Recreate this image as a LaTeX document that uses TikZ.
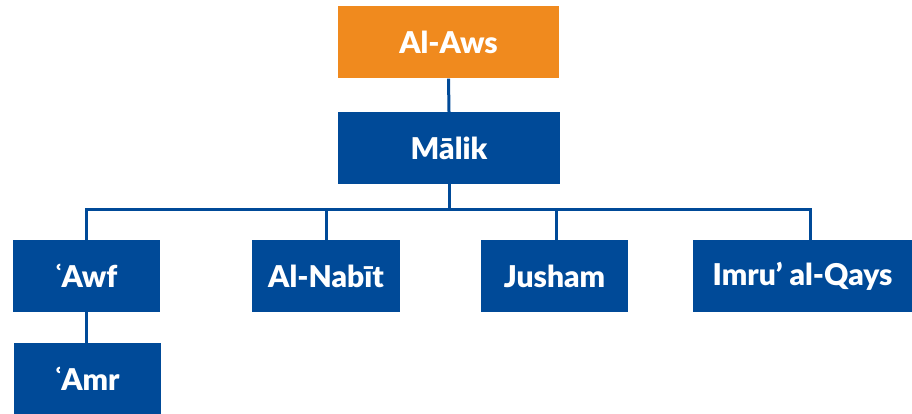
\documentclass[tikz,border=0pt]{standalone}
\usepackage{fontspec}
\setmainfont{Lato}
\newfontfamily\heavyfont{Lato Black}
\definecolor{famblue}{HTML}{004A98}
\definecolor{famorange}{HTML}{F08A1E}
\tikzset{
  person/.style={rectangle, fill=famblue, text=white, inner sep=0pt,
    minimum height=72pt, font=\heavyfont\fontsize{30}{32}\selectfont},
  root/.style={person, fill=famorange},
  conn/.style={draw=famblue, line width=3pt}
}
\begin{document}
\begin{tikzpicture}[x=1pt, y=-1pt]
  \useasboundingbox (0,0) rectangle (912,414);
  % tree nodes
  \node[root, minimum width=221pt] (aws) at (448.5,42.5) {Al-Aws};
  \node[person, minimum width=222pt] (malik) at (449,148) {Mālik};
  \node[person, minimum width=147pt] (awf) at (86.5,276) {ʿAwf};
  \node[person, minimum width=148pt] (nabit) at (326,276) {Al-Nabīt};
  \node[person, minimum width=147pt] (jusham) at (554.5,276) {Jusham};
  \node[person, minimum width=219pt] (imru) at (802.5,276) {Imru’ al-Qays};
  \node[person, minimum width=147pt] (amr) at (87.5,379) {ʿAmr};
  % connectors
  \draw[conn] (aws.south) -- (malik.north);
  \draw[conn] (malik.south) -- ++(0,25.5) coordinate (hub);
  \draw[conn] ([xshift=-0.5pt]awf.north) |- (hub) -| ([xshift=7.5pt]imru.north);
  \draw[conn] (nabit.north) -- (nabit.north |- hub);
  \draw[conn] ([xshift=1.5pt]jusham.north) -- ([xshift=1.5pt]jusham.north |- hub);
  \draw[conn] (awf.south) -- (awf.south |- amr.north);
\end{tikzpicture}
\end{document}
